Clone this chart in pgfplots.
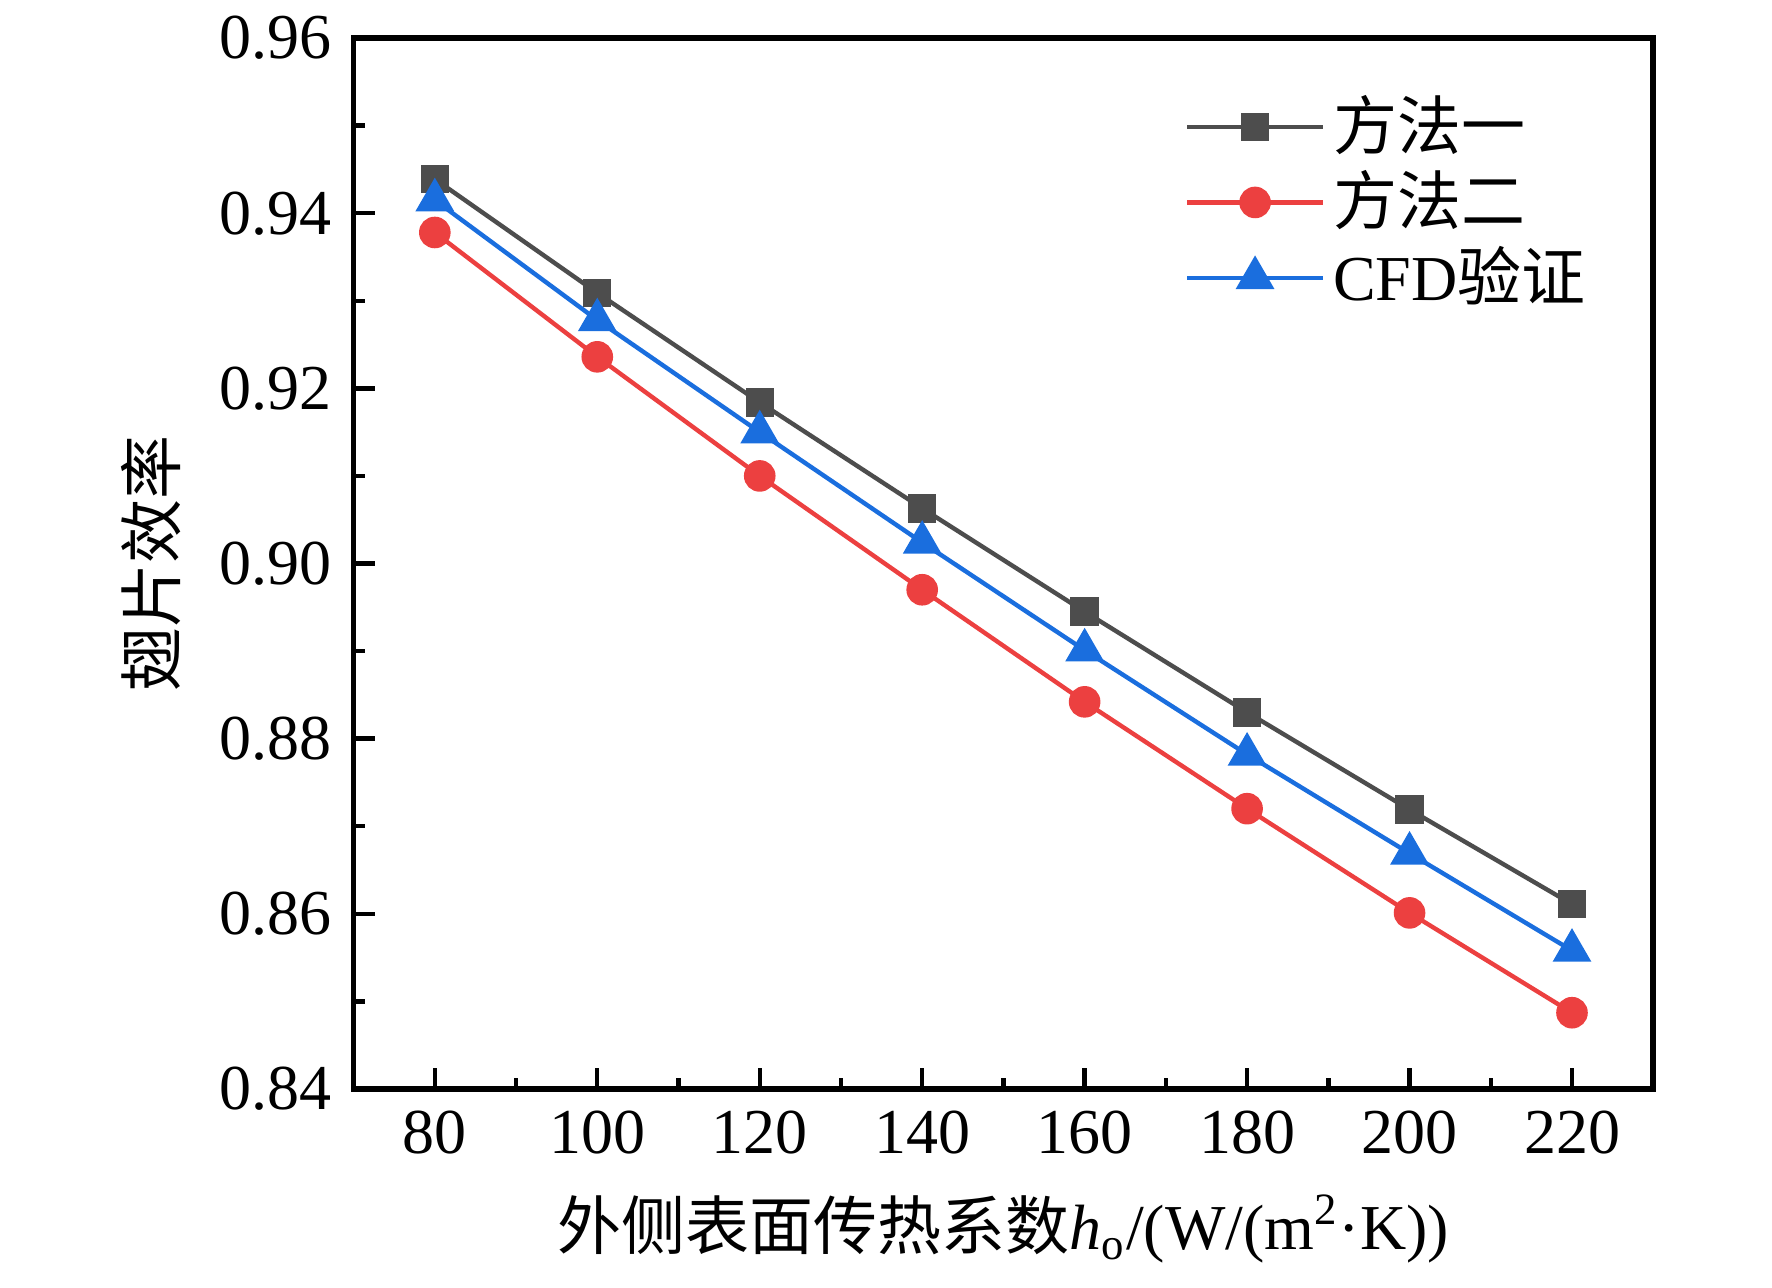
\documentclass[border=0pt]{standalone}
\usepackage{fontspec}
\setmainfont{Liberation Serif}
\newfontfamily\cjk{Noto Sans CJK SC}
\usepackage{pgfplots}
\pgfplotsset{compat=1.18}
\definecolor{cgray}{RGB}{77,77,77}
\definecolor{cred}{RGB}{236,64,64}
\definecolor{cblue}{RGB}{26,110,222}
\begin{document}
\fontsize{16}{19}\selectfont
\begin{tikzpicture}
\useasboundingbox (-88.4pt,-49.53pt) rectangle (354.6pt,272.22pt);
\begin{axis}[
  at={(0,0)}, anchor=south west,
  scale only axis,
  width=324.9pt, height=262.7pt,
  xmin=70, xmax=230, ymin=0.84, ymax=0.96,
  xtick={80,100,...,220},
  ytick={0.84,0.86,...,0.96},
  minor x tick num=1, minor y tick num=1,
  tick pos=left, tick align=inside,
  major tick length=5.25pt, minor tick length=2.75pt,
  every tick/.style={line width=1.1pt, black},
  axis line style={line width=1.4pt},
  /pgf/number format/assume math mode=true,
  yticklabel style={/pgf/number format/.cd, fixed, fixed zerofill, precision=2},
  xticklabel style={/pgf/number format/.cd, fixed, precision=0},
  tick label style={font=\fontsize{16}{19}\selectfont},
  every axis y label/.style={at={(axis description cs:-0.1561,0.5)}, rotate=90, anchor=center, font=\fontsize{16}{19}\selectfont},
  every axis x label/.style={at={(axis description cs:0.5,-0.1330)}, anchor=center, font=\fontsize{16}{19}\selectfont},
  xlabel={{\cjk 外侧表面传热系数}{\itshape h}\textsubscript{o}/(W/(m\textsuperscript{2}·K))},
  ylabel={{\cjk 翅片效率}},
  legend style={draw=none, fill=none, inner sep=0pt, at={(0.639,0.954)}, anchor=north west,
    font=\fontsize{16}{19}\selectfont, row sep=-1.1pt,
    /tikz/every even column/.append style={column sep=4pt}},
  legend cell align=left,
  legend image code/.code={\draw[mark repeat=2,mark phase=2] plot coordinates {(0pt,0pt) (17pt,0pt) (34pt,0pt)};},
]
\addplot[cgray, line width=1.1pt, mark=square*, mark size=3.0pt, mark options={solid, fill=cgray}] coordinates {
(80,0.9439) (100,0.9309) (120,0.9184) (140,0.9063) (160,0.8945) (180,0.8830) (200,0.8719) (220,0.8611)};
\addlegendentry{{\cjk 方法一}}
\addplot[cred, line width=1.1pt, mark=*, mark size=3.4pt, mark options={solid, fill=cred}] coordinates {
(80,0.9378) (100,0.9236) (120,0.9100) (140,0.8970) (160,0.8842) (180,0.8720) (200,0.8601) (220,0.8487)};
\addlegendentry{{\cjk 方法二}}
\addplot[cblue, line width=1.1pt, mark=triangle*, mark size=4.5pt, mark options={solid, fill=cblue}] coordinates {
(80,0.9415) (100,0.9278) (120,0.9150) (140,0.9024) (160,0.8901) (180,0.8782) (200,0.8669) (220,0.8558)};
\addlegendentry{CFD{\cjk 验证}}
\end{axis}
\end{tikzpicture}
\end{document}
